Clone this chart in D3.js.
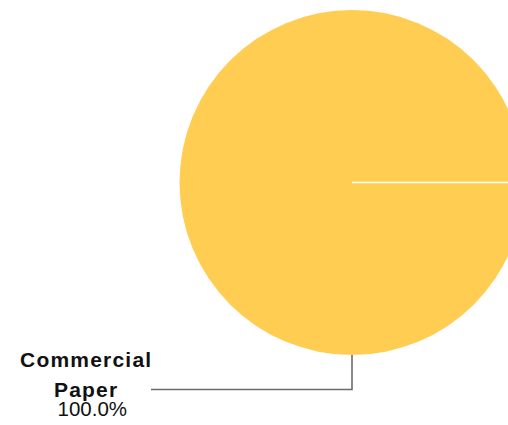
<!DOCTYPE html>
<html>
<head>
<meta charset="utf-8">
<script src="https://cdn.jsdelivr.net/npm/d3@7"></script>
<style>
  html, body { margin: 0; padding: 0; background: #fff; }
  svg { display: block; }
</style>
</head>
<body>
<svg id="chart" width="508" height="425"></svg>
<script>
const categories = ["Commercial Paper"];
const values = [100.0];
const labelLines = [["Commercial", "Paper"]];
const colors = ["#FFCD52"];

const svg = d3.select("#chart");
const cx = 352, cy = 182.5, R = 172.5;

const pie = d3.pie().sort(null).value(d => d)
  .startAngle(Math.PI / 2).endAngle(Math.PI / 2 + 2 * Math.PI);
const arcs = pie(values);
const arc = d3.arc().innerRadius(0).outerRadius(R);

const g = svg.append("g").attr("transform", `translate(${cx},${cy})`);
g.selectAll("path.slice").data(arcs).enter().append("path")
  .attr("class", "slice")
  .attr("d", arc)
  .attr("fill", (d, i) => colors[i]);

// slice boundary lines
g.selectAll("line.sep").data(arcs).enter().append("line")
  .attr("class", "sep")
  .attr("x1", 0).attr("y1", 0)
  .attr("x2", d => R * Math.sin(d.startAngle))
  .attr("y2", d => -R * Math.cos(d.startAngle))
  .attr("stroke", "#fff").attr("stroke-width", 1.6);

// leader line
const total = d3.sum(values);
const leaderAngle = Math.PI; // bottom
const px = R * Math.sin(leaderAngle), py = -R * Math.cos(leaderAngle);
const elbowY = 389.5 - cy;
const endX = 151 - cx;
g.append("polyline")
  .attr("points", `${px},${py} ${px},${elbowY} ${endX},${elbowY}`)
  .attr("fill", "none").attr("stroke", "#6b6b6b").attr("stroke-width", 1.6);

const lbl = svg.append("g");
const lines = labelLines[0];
const baselines = [367.3, 397.3];
lines.forEach((t, i) => {
  lbl.append("text")
    .attr("x", 86.2).attr("y", baselines[i])
    .attr("text-anchor", "middle")
    .attr("font-family", "Liberation Sans, Arial, sans-serif")
    .attr("font-weight", "bold")
    .attr("font-size", 21)
    .attr("letter-spacing", "1.2px")
    .attr("fill", "#111")
    .text(t);
});
lbl.append("text")
  .attr("x", 92.3).attr("y", 415.8)
  .attr("text-anchor", "middle")
  .attr("font-family", "Liberation Sans, Arial, sans-serif")
  .attr("font-size", 20.5)
  .attr("fill", "#111")
  .text(d3.format(".1f")(values[0] / total * 100) + "%");
</script>
</body>
</html>
